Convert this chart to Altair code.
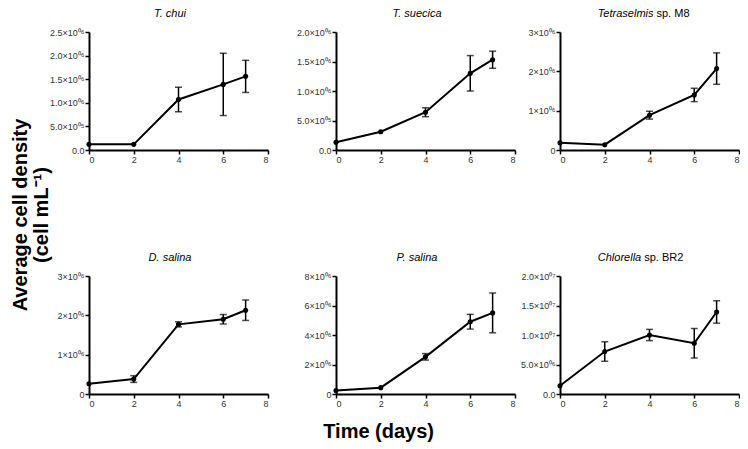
import altair as alt
import pandas as pd

# ---------------- data ----------------
days = [0, 2, 4, 6, 7]

t_chui_mean = [0.12e6, 0.12e6, 1.07e6, 1.39e6, 1.56e6]
t_chui_err = [0, 0, 0.26e6, 0.66e6, 0.34e6]

t_suecica_mean = [0.13e6, 0.31e6, 0.64e6, 1.30e6, 1.53e6]
t_suecica_err = [0, 0, 0.075e6, 0.30e6, 0.145e6]

tetra_mean = [0.185e6, 0.135e6, 0.885e6, 1.40e6, 2.07e6]
tetra_err = [0, 0, 0.10e6, 0.17e6, 0.40e6]

d_salina_mean = [0.26e6, 0.38e6, 1.77e6, 1.90e6, 2.13e6]
d_salina_err = [0, 0.085e6, 0.065e6, 0.12e6, 0.26e6]

p_salina_mean = [0.23e6, 0.43e6, 2.52e6, 4.90e6, 5.50e6]
p_salina_err = [0, 0, 0.22e6, 0.50e6, 1.35e6]

chlorella_mean = [1.4e6, 7.2e6, 10.0e6, 8.6e6, 13.9e6]
chlorella_err = [0, 1.65e6, 0.95e6, 2.5e6, 1.9e6]

x_ticks = [0, 2, 4, 6, 8]

ticks_a = [0, 5e5, 1e6, 1.5e6, 2e6, 2.5e6]
labels_a = ["0.0", "5.0×10⁰⁵", "1.0×10⁰⁶", "1.5×10⁰⁶", "2.0×10⁰⁶", "2.5×10⁰⁶"]
ticks_b = [0, 5e5, 1e6, 1.5e6, 2e6]
labels_b = ["0.0", "5.0×10⁰⁵", "1.0×10⁰⁶", "1.5×10⁰⁶", "2.0×10⁰⁶"]
ticks_c = [0, 1e6, 2e6, 3e6]
labels_c = ["0", "1×10⁰⁶", "2×10⁰⁶", "3×10⁰⁶"]
ticks_p = [0, 2e6, 4e6, 6e6, 8e6]
labels_p = ["0", "2×10⁰⁶", "4×10⁰⁶", "6×10⁰⁶", "8×10⁰⁶"]
ticks_ch = [0, 5e6, 1e7, 1.5e7, 2e7]
labels_ch = ["0.0", "5.0×10⁰⁶", "1.0×10⁰⁷", "1.5×10⁰⁷", "2.0×10⁰⁷"]

# title parts: (italic part, normal part)
titles = [
    ("T. chui", ""),
    ("T. suecica", ""),
    ("Tetraselmis", "sp. M8"),
    ("D. salina", ""),
    ("P. salina", ""),
    ("Chlorella", "sp. BR2"),
]

panels_data = [
    (t_chui_mean, t_chui_err, 2.5e6, ticks_a, labels_a),
    (t_suecica_mean, t_suecica_err, 2.0e6, ticks_b, labels_b),
    (tetra_mean, tetra_err, 3.0e6, ticks_c, labels_c),
    (d_salina_mean, d_salina_err, 3.0e6, ticks_c, labels_c),
    (p_salina_mean, p_salina_err, 8.0e6, ticks_p, labels_p),
    (chlorella_mean, chlorella_err, 2.0e7, ticks_ch, labels_ch),
]

FONT = "Liberation Sans"
W, H = 179, 118
TY = -18


def label_expr(vals, labels):
    expr = "''"
    for v, l in reversed(list(zip(vals, labels))):
        expr = f"abs(datum.value - {v:.0f}) < 1 ? '{l}' : ({expr})"
    return expr


def panel(i, extent, split=None):
    mean, err, ymax, ticks, labels = panels_data[i]
    df = pd.DataFrame({"day": days, "mean": mean, "err": err})
    df["lo"] = df["mean"] - df["err"]
    df["hi"] = df["mean"] + df["err"]
    base = alt.Chart(df)
    xs = alt.Scale(domain=[0, 8], nice=False, zero=False)
    xa = alt.Axis(values=x_ticks, title=None, format="d", labelOverlap=False)
    ys = alt.Scale(domain=[0, ymax], nice=False)
    ya = alt.Axis(values=ticks, labelExpr=label_expr(ticks, labels), title=None,
                  minExtent=extent, labelOverlap=False, labelBound=False)

    def X():
        return alt.X("day:Q", scale=xs, axis=xa)

    def Y(field):
        return alt.Y(f"{field}:Q", scale=ys, axis=ya)

    line = base.mark_line(color="black", strokeWidth=2).encode(x=X(), y=Y("mean"))
    pts = base.mark_circle(color="black", size=26, opacity=1).encode(x=X(), y=Y("mean"))
    eb = base.transform_filter("datum.err > 0")
    rule = eb.mark_rule(color="black", strokeWidth=1.5).encode(x=X(), y=Y("lo"), y2="hi:Q")
    cap_lo = eb.mark_tick(color="black", orient="horizontal", size=7, thickness=1.5).encode(x=X(), y=Y("lo"))
    cap_hi = eb.mark_tick(color="black", orient="horizontal", size=7, thickness=1.5).encode(x=X(), y=Y("hi"))

    ital, normal = titles[i]
    layers = [line, pts, rule, cap_lo, cap_hi]
    if normal:
        t1 = alt.Chart(pd.DataFrame({"t": [ital]})).mark_text(
            font=FONT, fontSize=11, fontStyle="italic", align="right", baseline="middle", color="black"
        ).encode(text="t:N", x=alt.value(split), y=alt.value(TY))
        t2 = alt.Chart(pd.DataFrame({"t": [normal]})).mark_text(
            font=FONT, fontSize=11, align="left", baseline="middle", color="black"
        ).encode(text="t:N", x=alt.value(split + 3), y=alt.value(TY))
        layers += [t1, t2]
    else:
        t1 = alt.Chart(pd.DataFrame({"t": [ital]})).mark_text(
            font=FONT, fontSize=11, fontStyle="italic", align="center", baseline="middle", color="black"
        ).encode(text="t:N", x=alt.value(81), y=alt.value(TY))
        layers += [t1]
    return alt.layer(*layers).properties(width=W, height=H)


row1 = alt.hconcat(panel(0, 38), panel(1, 69.5), panel(2, 46.5, split=93.5), spacing=-3)
row2 = alt.hconcat(panel(3, 38), panel(4, 69.5), panel(5, 46.5, split=81.2), spacing=-3)

inner = alt.vconcat(row1, row2, spacing=88).properties(
    title=alt.TitleParams(
        text=["Average cell density", "(cell mL⁻¹)"], orient="left", anchor="middle",
        fontSize=20, fontWeight="bold", font=FONT, lineHeight=21, offset=-3, dx=-7, color="black"
    )
)

chart = alt.vconcat(inner).properties(
    title=alt.TitleParams(
        text="Time (days)", orient="bottom", anchor="middle",
        fontSize=20, fontWeight="bold", font=FONT, offset=14, dx=3, color="black"
    ),
    padding={"left": 3, "top": 0, "right": 0, "bottom": 0},
).configure_view(stroke=None).configure_axis(
    domainColor="black", domainWidth=2, tickColor="black", tickWidth=1.5, tickSize=4,
    labelFont=FONT, labelFontSize=9, labelColor="#333", labelPadding=1, grid=False,
    labelOverlap=False,
).configure_title(font=FONT)

chart.save("out.html", embed_options={"renderer": "svg", "actions": False})
